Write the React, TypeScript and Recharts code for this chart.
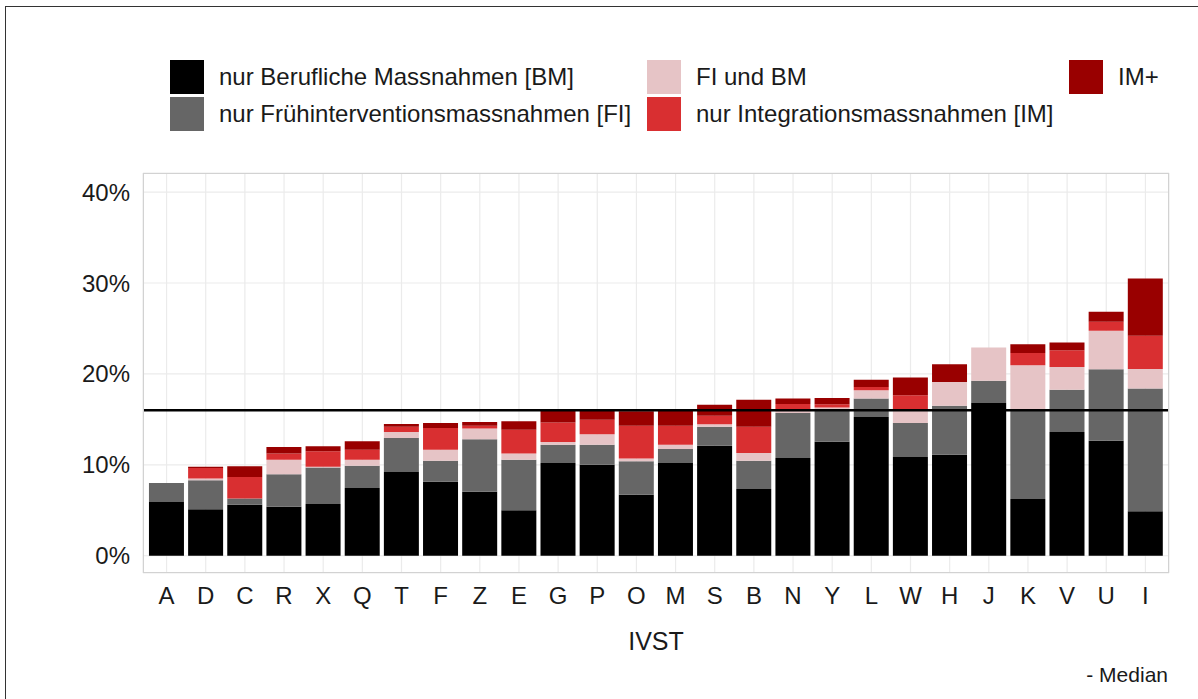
import { BarChart, Bar, XAxis, YAxis, CartesianGrid, ReferenceLine } from 'recharts';

const categories = ['A', 'D', 'C', 'R', 'X', 'Q', 'T', 'F', 'Z', 'E', 'G', 'P', 'O', 'M', 'S', 'B', 'N', 'Y', 'L', 'W', 'H', 'J', 'K', 'V', 'U', 'I'];

const bm = [5.9, 5.1, 5.6, 5.4, 5.7, 7.45, 9.2, 8.15, 7.05, 5.0, 10.2, 10.0, 6.7, 10.2, 12.1, 7.35, 10.75, 12.55, 15.25, 10.85, 11.1, 16.8, 6.25, 13.6, 12.65, 4.9];
const fi = [2.1, 3.2, 0.7, 3.55, 4.0, 2.45, 3.75, 2.3, 5.75, 5.55, 2.0, 2.2, 3.7, 1.55, 2.1, 3.1, 4.95, 3.4, 2.05, 3.75, 5.4, 2.45, 9.8, 4.65, 7.85, 13.5];
const fiBm = [0, 0.2, 0, 1.6, 0.1, 0.65, 0.65, 1.2, 1.2, 0.7, 0.3, 1.15, 0.3, 0.45, 0.25, 0.85, 0.25, 0.35, 0.9, 1.55, 2.6, 3.65, 4.9, 2.5, 4.25, 2.15];
const im = [0, 1.15, 2.35, 0.7, 1.7, 1.1, 0.6, 2.4, 0.3, 2.6, 2.15, 1.6, 3.6, 2.1, 0.95, 2.9, 0.75, 0.35, 0.35, 1.5, 0, 0, 1.35, 1.85, 1.0, 3.65];
const imPlus = [0, 0.15, 1.2, 0.7, 0.55, 0.95, 0.3, 0.55, 0.4, 0.95, 1.3, 1.0, 1.6, 1.7, 1.2, 2.95, 0.6, 0.7, 0.8, 1.95, 1.95, 0, 0.95, 0.85, 1.1, 6.3];

const median = 16;
const yTicks = [0, 10, 20, 30, 40];

const series = [
  { key: 'bm', label: 'nur Berufliche Massnahmen [BM]', color: '#000000' },
  { key: 'fi', label: 'nur Frühinterventionsmassnahmen [FI]', color: '#666666' },
  { key: 'fiBm', label: 'FI und BM', color: '#e6c4c6' },
  { key: 'im', label: 'nur Integrationsmassnahmen [IM]', color: '#d92f31' },
  { key: 'imPlus', label: 'IM+', color: '#990000' },
];

const data = categories.map((cat, i) => ({
  cat,
  bm: bm[i],
  fi: fi[i],
  fiBm: fiBm[i],
  im: im[i],
  imPlus: imPlus[i],
}));

const font = '"Liberation Sans", Arial, sans-serif';

// legend slots: [left, top] of each key square
const legendPos: Record<string, [number, number]> = {
  bm: [170, 60],
  fi: [170, 97],
  fiBm: [647, 60],
  im: [647, 97],
  imPlus: [1069, 60],
};

function Legend() {
  return (
    <>
      {series.map((s) => {
        const [x, y] = legendPos[s.key];
        return (
          <div key={s.key}>
            <div style={{ position: 'absolute', left: x, top: y, width: 34, height: 34, background: s.color }} />
            <div
              style={{
                position: 'absolute',
                left: x + 49,
                top: y,
                height: 34,
                lineHeight: '34px',
                fontSize: 24,
                color: '#1a1a1a',
                whiteSpace: 'nowrap',
              }}
            >
              {s.label}
            </div>
          </div>
        );
      })}
    </>
  );
}

export default function App() {
  return (
    <div
      style={{
        position: 'absolute',
        left: 0,
        top: 0,
        width: 1198,
        height: 699,
        background: '#fff',
        overflow: 'hidden',
        fontFamily: font,
      }}
    >
      <div
        style={{
          position: 'absolute',
          left: 5,
          top: 6,
          width: 1210,
          height: 710,
          borderLeft: '1px solid #333',
          borderTop: '1px solid #333',
        }}
      />
      <Legend />
      <BarChart
        width={1198}
        height={699}
        data={data}
        margin={{ top: 173, right: 29, bottom: 46, left: 0 }}
        barCategoryGap="5%"
        style={{ position: 'absolute', left: 0, top: 0 }}
      >
        <CartesianGrid stroke="#ebebeb" strokeWidth={1.2} />
        <XAxis
          dataKey="cat"
          interval={0}
          tickLine={false}
          axisLine={false}
          tickSize={0}
          tickMargin={14}
          height={80}
          padding={{ left: 4, right: 4 }}
          tick={{ fontSize: 24, fill: '#1a1a1a', fontFamily: font }}
          label={{ value: 'IVST', position: 'insideBottom', offset: 3, fontSize: 25, fill: '#1a1a1a', fontFamily: font }}
        />
        <YAxis
          width={143}
          domain={[-1.9, 42.1]}
          ticks={yTicks}
          allowDataOverflow
          tickLine={false}
          axisLine={false}
          tickSize={0}
          tickMargin={13}
          tickFormatter={(v) => `${v}%`}
          tick={{ fontSize: 24, fill: '#1a1a1a', fontFamily: font }}
        />
        {series.map((s) => (
          <Bar key={s.key} dataKey={s.key} stackId="a" fill={s.color} isAnimationActive={false} />
        ))}
        <ReferenceLine y={median} stroke="#000" strokeWidth={2.5} />
      </BarChart>
      <div
        style={{
          position: 'absolute',
          left: 143,
          top: 173,
          width: 1026,
          height: 400,
          boxSizing: 'border-box',
          border: '1px solid #d2d2d2',
          pointerEvents: 'none',
        }}
      />
      <div
        style={{
          position: 'absolute',
          right: 30,
          top: 663,
          fontSize: 21,
          color: '#1a1a1a',
          whiteSpace: 'nowrap',
        }}
      >
        - Median
      </div>
    </div>
  );
}
